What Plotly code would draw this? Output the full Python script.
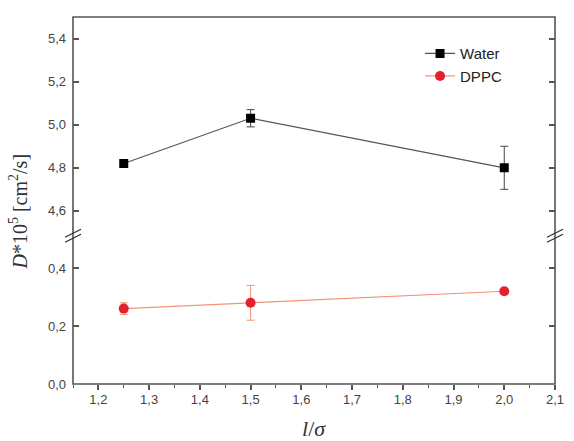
import plotly.graph_objects as go

# Data
x_vals = [1.25, 1.5, 2.0]
water_y = [4.82, 5.03, 4.80]
water_err = [0.01, 0.04, 0.10]
dppc_y = [0.26, 0.28, 0.32]
dppc_err = [0.02, 0.06, 0.01]

x_range = [1.15, 2.1]
lower_range = [0.0, 0.5]
upper_range = [4.5, 5.5]

axis_col = "#555555"
tick_font = dict(family="Liberation Sans, Arial, sans-serif", size=13, color="#444444")

fig = go.Figure()

fig.add_trace(go.Scatter(
    x=x_vals, y=water_y, name="Water", mode="lines+markers",
    line=dict(color="#555555", width=1.2),
    marker=dict(symbol="square", size=9, color="#000000"),
    error_y=dict(type="data", array=water_err, color="#444444", thickness=1, width=4),
    xaxis="x", yaxis="y2",
))
fig.add_trace(go.Scatter(
    x=x_vals, y=dppc_y, name="DPPC", mode="lines+markers",
    line=dict(color="#f29378", width=1.2),
    marker=dict(symbol="circle", size=10, color="#e3212f"),
    error_y=dict(type="data", array=dppc_err, color="#f29378", thickness=1, width=4),
    xaxis="x", yaxis="y",
))

d_low = 0.395
d_up = 0.413

fig.update_layout(
    width=574, height=441,
    margin=dict(l=73, r=10, t=17, b=57),
    plot_bgcolor="white", paper_bgcolor="white",
    separators=", ",
    showlegend=True,
    legend=dict(x=0.72, y=0.945, xanchor="left", yanchor="top",
                font=dict(family="Liberation Sans, Arial, sans-serif", size=15, color="#222222"),
                bgcolor="rgba(0,0,0,0)", tracegroupgap=2),
    xaxis=dict(range=x_range, anchor="y", dtick=0.1, tick0=1.2, tickformat=".1f",
               ticks="outside", ticklen=5, tickwidth=1.5, tickcolor=axis_col,
               minor=dict(dtick=0.05, ticks="outside", ticklen=3, tickwidth=1.2, tickcolor=axis_col),
               showgrid=False, zeroline=False, showline=False, tickfont=tick_font,
               ticklabelstandoff=-2),
    xaxis2=dict(range=x_range, anchor="y2", overlaying="x", side="top", dtick=0.1, tick0=1.2,
                ticks="inside", ticklen=6, tickwidth=1.5, tickcolor=axis_col, showticklabels=False,
                minor=dict(dtick=0.05, ticks="inside", ticklen=3, tickwidth=1.2, tickcolor=axis_col),
                showgrid=False, zeroline=False, showline=False),
    yaxis=dict(domain=[0, d_low], range=lower_range, dtick=0.2, tick0=0, tickformat=".1f",
               ticks="inside", ticklen=6, tickwidth=1.5, tickcolor=axis_col, mirror="ticks",
               showgrid=False, zeroline=False, showline=False, tickfont=tick_font,
               ticklabelstandoff=6),
    yaxis2=dict(domain=[d_up, 1], range=upper_range, dtick=0.2, tick0=0, tickformat=".1f",
                ticks="inside", ticklen=6, tickwidth=1.5, tickcolor=axis_col, mirror="ticks",
                showgrid=False, zeroline=False, showline=False, tickfont=tick_font, anchor="x",
                ticklabelstandoff=6),
)

# frame
fig.add_shape(type="rect", xref="paper", yref="paper", x0=0, y0=0, x1=1, y1=1,
              line=dict(color=axis_col, width=1.6), layer="above")

# break marks
ybreak = (d_low + d_up) / 2
for xa in (0, 1):
    for off in (-2.5, 2.5):
        fig.add_shape(type="line", xref="paper", yref="paper",
                      xsizemode="pixel", ysizemode="pixel", xanchor=xa, yanchor=ybreak,
                      x0=-8, x1=8, y0=-4 + off, y1=4 + off,
                      line=dict(color="#333333", width=1.3), layer="above")

# axis titles
fig.add_annotation(text="<i>D</i>*10<sup>5</sup> [cm<sup>2</sup>/s]", textangle=-90,
                   xref="paper", yref="paper", x=0, y=0.47, xshift=-55,
                   xanchor="center", yanchor="middle", showarrow=False,
                   font=dict(family="Liberation Serif, Times New Roman, serif", size=20, color="#333333"))
fig.add_annotation(text="<i>l</i>/<i>σ</i>",
                   xref="paper", yref="paper", x=0.5, y=0, yshift=-44,
                   xanchor="center", yanchor="middle", showarrow=False,
                   font=dict(family="Liberation Serif, Times New Roman, serif", size=22, color="#333333"))

fig.write_html("out.html")
